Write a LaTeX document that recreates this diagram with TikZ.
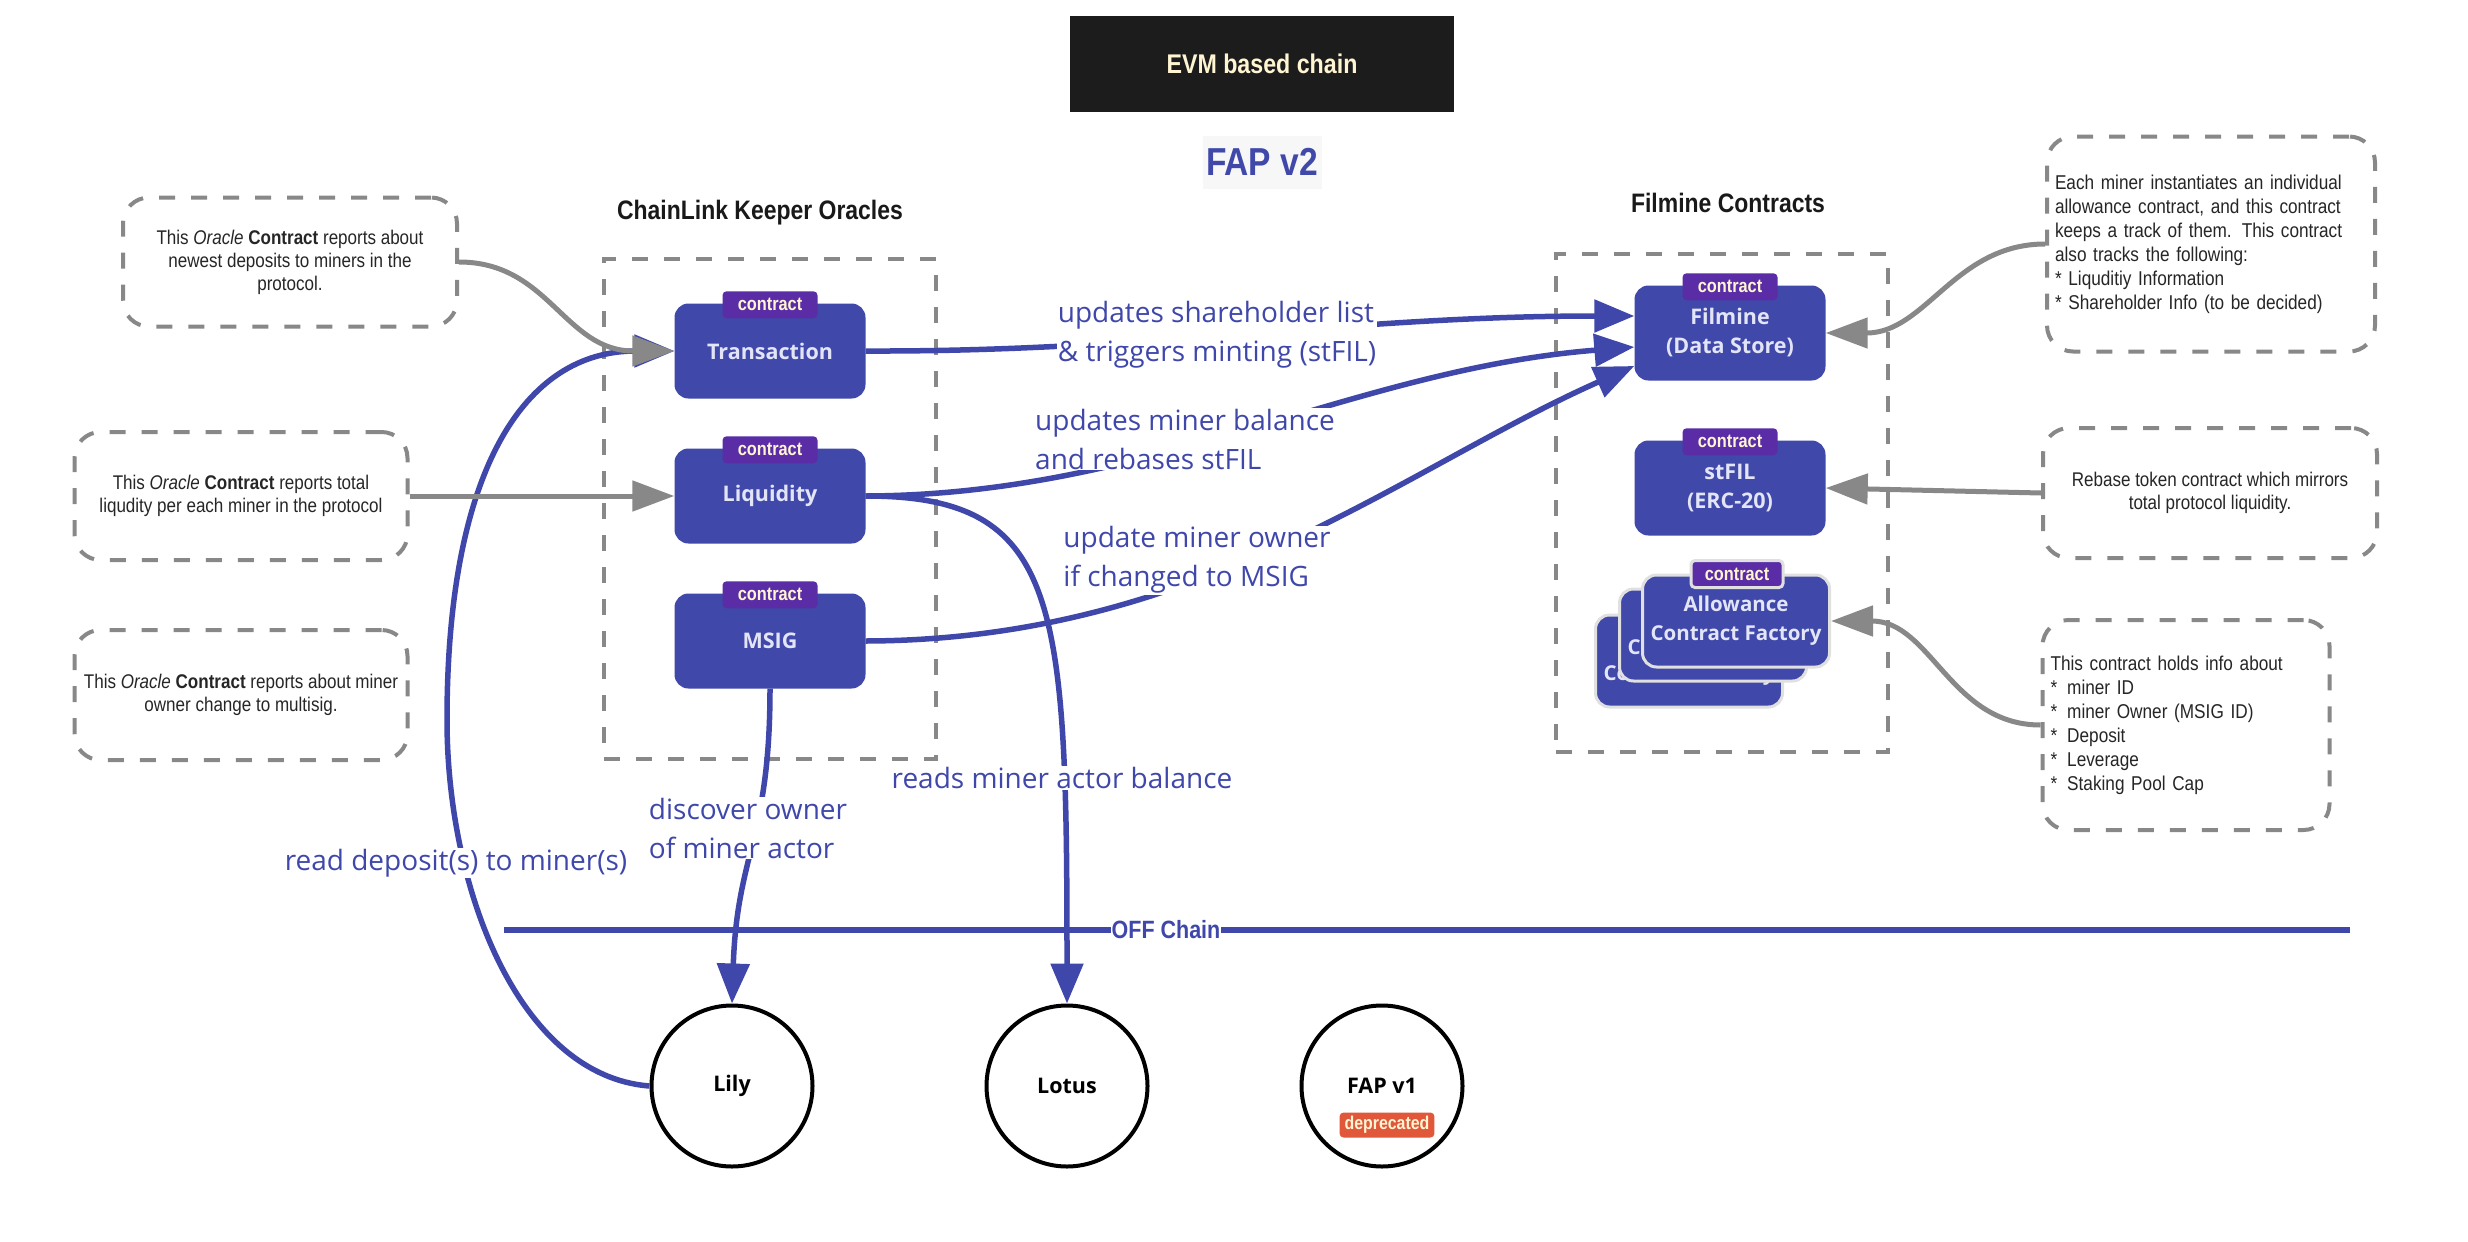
\documentclass[tikz,border=0pt]{standalone}
\usepackage{fontspec}
\setmainfont{Open Sans}
\newfontfamily\condfont[FakeStretch=0.86]{Liberation Sans}
\usetikzlibrary{positioning,arrows.meta,calc}

\definecolor{fapblue}{HTML}{4049A9}
\definecolor{linkblue}{HTML}{3F47AA}
\definecolor{tagpurple}{HTML}{5A2CA6}
\definecolor{cream}{HTML}{FFF5D2}
\definecolor{boxtext}{HTML}{E3E5F7}
\definecolor{hintgray}{HTML}{888888}
\definecolor{evmblack}{HTML}{1C1C1C}
\definecolor{deprecorange}{HTML}{E0573A}

\begin{document}
\begin{tikzpicture}[
  x=1pt, y=-1pt,
  ctrbox/.style={
    rectangle, rounded corners=14pt, fill=fapblue, text=boxtext,
    minimum width=191pt, minimum height=95pt, align=center,
    font=\fontsize{21.5}{29}\selectfont\bfseries
  },
  afbox/.style={ctrbox, draw=black!12, line width=3pt,
    minimum width=187pt, minimum height=92pt,
    font=\fontsize{20.5}{29}\selectfont\bfseries},
  ctag/.style={
    rectangle, rounded corners=4pt, fill=tagpurple, text=cream,
    minimum width=95pt, minimum height=27pt, inner sep=0pt,
    font=\condfont\fontsize{19}{19}\selectfont\bfseries
  },
  note/.style={
    rectangle, rounded corners=26pt, draw=hintgray, line width=4pt,
    dash pattern=on 16pt off 16pt, align=center, text=black!85,
    font=\condfont\fontsize{19.8}{23}\selectfont
  },
  listnote/.style={note, align=left, inner xsep=8pt,
    font=\condfont\fontsize{20}{24}\selectfont},
  grpbox/.style={rectangle, draw=hintgray, line width=4pt,
    dash pattern=on 16pt off 16pt},
  ttl/.style={font=\condfont\fontsize{26.7}{30}\selectfont\bfseries, text=black!90},
  actor/.style={circle, draw=black, line width=4pt, minimum size=161pt,
    inner sep=0pt, font=\fontsize{21.5}{25}\selectfont\bfseries},
  lbl/.style={fill=white, text=linkblue, align=left, inner sep=1pt,
    font=\fontsize{28}{39}\selectfont},
  flow/.style={draw=linkblue, line width=5.5pt,
    -{Triangle[length=40pt,width=32pt]}},
  hint/.style={draw=hintgray, line width=5pt,
    -{Triangle[length=42pt,width=30pt]}}
]
\path[use as bounding box, fill=white] (0,0) rectangle (2468,1242);

% --- header ---
\node[fill=evmblack, text=cream, minimum width=384pt, minimum height=96pt,
  font=\condfont\fontsize{27}{30}\selectfont\bfseries] (evm) at (1262,64) {EVM based chain};
\node[fill=black!3, text=fapblue, minimum width=119pt, minimum height=53pt, inner sep=0pt,
  font=\condfont\fontsize{39}{42}\selectfont\bfseries] (fapv2) at (1262,162) {FAP v2};

% --- ChainLink keepers ---
\node[ttl] (oratitle) at (760,213) {ChainLink Keeper Oracles};
\node[grpbox, minimum width=332pt, minimum height=500pt] (oracles) at (770,509) {};
\node[ctrbox] (tx) at (770,351) {Transaction};
\node[ctrbox] (lq) at (770,496) {Liquidity};
\node[ctrbox] (ms) at (770,641) {MSIG};
\node[ctag] (txtag) at ([yshift=-1.5pt]tx.north) {contract};
\node[ctag] (lqtag) at ([yshift=-1.5pt]lq.north) {contract};
\node[ctag] (mstag) at ([yshift=-1.5pt]ms.north) {contract};

% --- Filmine contracts ---
\node[ttl] (filtitle) at (1728,203) {Filmine Contracts};
\node[grpbox, minimum width=332pt, minimum height=498pt] (filmine) at (1722,503) {};
\node[ctrbox] (fm) at (1730,333) {Filmine\\(Data Store)};
\node[ctrbox] (st) at (1730,488) {stFIL\\(ERC-20)};
\node[ctag] (fmtag) at ([yshift=-1.5pt]fm.north) {contract};
\node[ctag] (sttag) at ([yshift=-1.5pt]st.north) {contract};
\node[afbox] (af3) at (1689,661) {Allowance\\Contract Factory};
\node[afbox] (af2) at (1713,635) {Allowance\\Contract Factory};
\node[afbox] (af)  at (1736,621) {Allowance\\Contract Factory};
\node[ctag, draw=black!12, line width=3pt, minimum width=92pt] (aftag) at (1737,574) {contract};

% --- notes ---
\node[note, minimum width=334pt, minimum height=129pt] (n1) at (290,262)
  {This \textit{Oracle} \textbf{Contract} reports about\\newest deposits to miners in the\\protocol.};
\node[note, minimum width=333pt, minimum height=128pt] (n2) at (241,496)
  {This \textit{Oracle} \textbf{Contract} reports total\\liqudity per each miner in the protocol};
\node[note, minimum width=333pt, minimum height=130pt] (n3) at (241,695)
  {This \textit{Oracle} \textbf{Contract} reports about miner\\owner change to multisig.};
\node[listnote, text width=312pt, minimum height=215pt] (r1) at (2211,244)
  {Each miner instantiates an individual\\allowance contract, and this contract\\keeps a track of them. This contract\\also tracks the following:\\{*} Liquditiy Information\\{*} Shareholder Info (to be decided)};
\node[note, minimum width=334pt, minimum height=130pt] (r2) at (2210,493)
  {Rebase token contract which mirrors\\total protocol liquidity.};
\node[listnote, text width=271pt, minimum height=210pt] (r3) at (2186,725)
  {This contract holds info about\\{*}\enspace miner ID\\{*}\enspace miner Owner (MSIG ID)\\{*}\enspace Deposit\\{*}\enspace Leverage\\{*}\enspace Staking Pool Cap};

% --- off chain ---
\node[actor] (lily) at (732,1086) {Lily};
\node[actor] (lotus) at (1067,1086) {Lotus};
\node[actor] (fapv1) at (1382,1086) {FAP v1};
\node[fill=deprecorange, text=cream, rounded corners=4pt, minimum height=25pt,
  inner xsep=5pt, inner ysep=0pt,
  font=\condfont\fontsize{18.5}{18}\selectfont\bfseries] (dep) at (1387,1125) {deprecated};

\coordinate (offL) at (504,930);
\coordinate (offR) at (2350,930);
\draw[linkblue, line width=5.5pt] (offL) -- (offR);

% --- connectors ---
\coordinate (bend) at (447,720);
\draw[flow] (lily.west) .. controls +(-130,-10) and +(0,170) .. (bend)
  .. controls +(0,-250) and +(-150,0) .. (tx.west);
\draw[flow] (tx.east) .. controls (1150,352) and (1350,316) .. ([yshift=17pt]fm.west);
\draw[flow] (lq.east) .. controls (1150,495) and (1350,370) .. ([yshift=-14pt]fm.west);
\draw[flow] (ms.east) .. controls (1200,640) and (1400,470) .. ([yshift=-33pt]fm.west);
\draw[flow] (lq.east) .. controls +(194,0) and +(0,-404) .. (lotus.north);
\draw[flow] (ms.south) .. controls +(0,150) and +(5,-150) .. (lily.north);

\draw[hint] (n1.east) .. controls +(90,0) and +(-110,0) .. (tx.west);
\draw[hint] (n2.east) -- (lq.west);
\draw[hint] (r1.west) .. controls +(-90,0) and +(100,0) .. (fm.east);
\draw[hint] (r2.west) -- (st.east);
\draw[hint] (r3.west) .. controls +(-90,0) and +(100,0) .. (af.east);

% --- labels ---
\node[lbl] (l1) at (1217,335) {updates shareholder list\\\& triggers minting (stFIL)};
\node[lbl] (l2) at (1185,439) {updates miner balance\\and rebases stFIL};
\node[lbl] (l3) at (1197,560) {update miner owner\\if changed to MSIG};
\node[lbl] (l4) at (1062,778) {reads miner actor balance};
\node[lbl] (l5) at (748,828) {discover owner\\of miner actor};
\node[lbl] (l6) at (456,863) {read deposit(s) to miner(s)};
\node[fill=white, text=linkblue, inner sep=1pt,
  font=\condfont\fontsize{25}{28}\selectfont\bfseries] (offchain) at (1166,930) {OFF Chain};

\end{tikzpicture}
\end{document}
